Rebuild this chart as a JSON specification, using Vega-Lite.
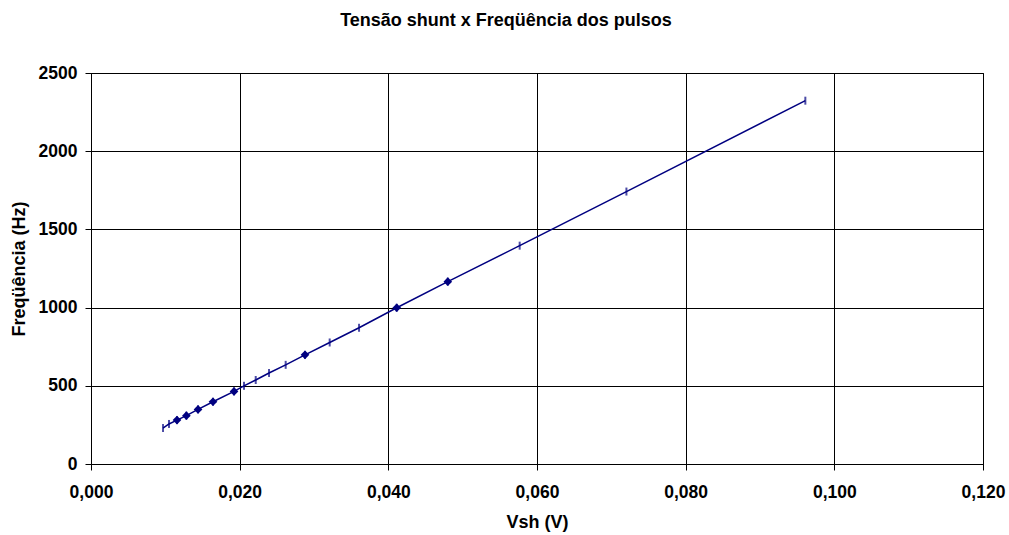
{
  "$schema": "https://vega.github.io/schema/vega-lite/v6.json",
  "autosize": "none",
  "width": 892,
  "height": 391,
  "padding": {"left": 91, "top": 73, "right": 26, "bottom": 71},
  "background": "white",
  "config": {
    "font": "Liberation Sans",
    "view": {"stroke": "black", "strokeWidth": 1},
    "locale": {"number": {"decimal": ",", "thousands": ".", "grouping": [3], "currency": ["", ""]}}
  },
  "title": {
    "text": "Tensão shunt x Freqüência dos pulsos",
    "font": "Liberation Sans",
    "fontSize": 18,
    "fontWeight": "bold",
    "color": "black",
    "anchor": "middle",
    "dx": -31,
    "offset": 34
  },
  "data": {
    "values": [
      {"vsh": 0.00969, "freq": 230, "grupo": "B"},
      {"vsh": 0.01049, "freq": 256, "grupo": "B"},
      {"vsh": 0.01157, "freq": 281, "grupo": "A"},
      {"vsh": 0.01283, "freq": 309, "grupo": "A"},
      {"vsh": 0.01440, "freq": 349, "grupo": "A"},
      {"vsh": 0.01641, "freq": 398, "grupo": "A"},
      {"vsh": 0.01924, "freq": 464, "grupo": "A"},
      {"vsh": 0.02058, "freq": 500, "grupo": "B"},
      {"vsh": 0.02216, "freq": 537, "grupo": "B"},
      {"vsh": 0.02395, "freq": 582, "grupo": "B"},
      {"vsh": 0.02619, "freq": 634, "grupo": "B"},
      {"vsh": 0.02879, "freq": 698, "grupo": "A"},
      {"vsh": 0.03211, "freq": 777, "grupo": "B"},
      {"vsh": 0.03606, "freq": 871, "grupo": "B"},
      {"vsh": 0.04113, "freq": 999, "grupo": "A"},
      {"vsh": 0.04800, "freq": 1166, "grupo": "A"},
      {"vsh": 0.05767, "freq": 1396, "grupo": "B"},
      {"vsh": 0.07203, "freq": 1742, "grupo": "B"},
      {"vsh": 0.09610, "freq": 2323, "grupo": "B"}
    ]
  },
  "encoding": {
    "x": {
      "field": "vsh", "type": "quantitative",
      "scale": {"domain": [0, 0.12], "nice": false, "zero": false},
      "axis": {
        "title": "Vsh (V)", "format": ".3f", "values": [0, 0.02, 0.04, 0.06, 0.08, 0.1, 0.12],
        "grid": true, "gridColor": "black", "gridOpacity": 1, "gridWidth": 1,
        "domainColor": "black", "tickColor": "black", "tickSize": 6, "labelFlush": false,
        "labelFont": "Liberation Sans", "labelFontSize": 17.5, "labelFontWeight": "bold", "labelColor": "black", "labelPadding": 13,
        "titleFont": "Liberation Sans", "titleFontSize": 18, "titleFontWeight": "bold", "titleColor": "black", "titlePadding": 13
      }
    },
    "y": {
      "field": "freq", "type": "quantitative",
      "scale": {"domain": [0, 2500], "nice": false},
      "axis": {
        "title": "Freqüência (Hz)", "format": "d", "values": [0, 500, 1000, 1500, 2000, 2500],
        "grid": true, "gridColor": "black", "gridOpacity": 1, "gridWidth": 1,
        "domainColor": "black", "tickColor": "black", "tickSize": 6,
        "labelFont": "Liberation Sans", "labelFontSize": 17.5, "labelFontWeight": "bold", "labelColor": "black", "labelPadding": 8,
        "titleFont": "Liberation Sans", "titleFontSize": 18, "titleFontWeight": "bold", "titleColor": "black", "titlePadding": 10
      }
    }
  },
  "layer": [
    {"mark": {"type": "line", "color": "#000080", "strokeWidth": 1.5}},
    {"mark": {"type": "tick", "orient": "vertical", "color": "#000080", "size": 8, "thickness": 2}},
    {
      "transform": [{"filter": "datum.grupo === 'A'"}],
      "mark": {"type": "point", "shape": "diamond", "filled": true, "color": "#000080", "size": 75, "opacity": 1}
    }
  ]
}
